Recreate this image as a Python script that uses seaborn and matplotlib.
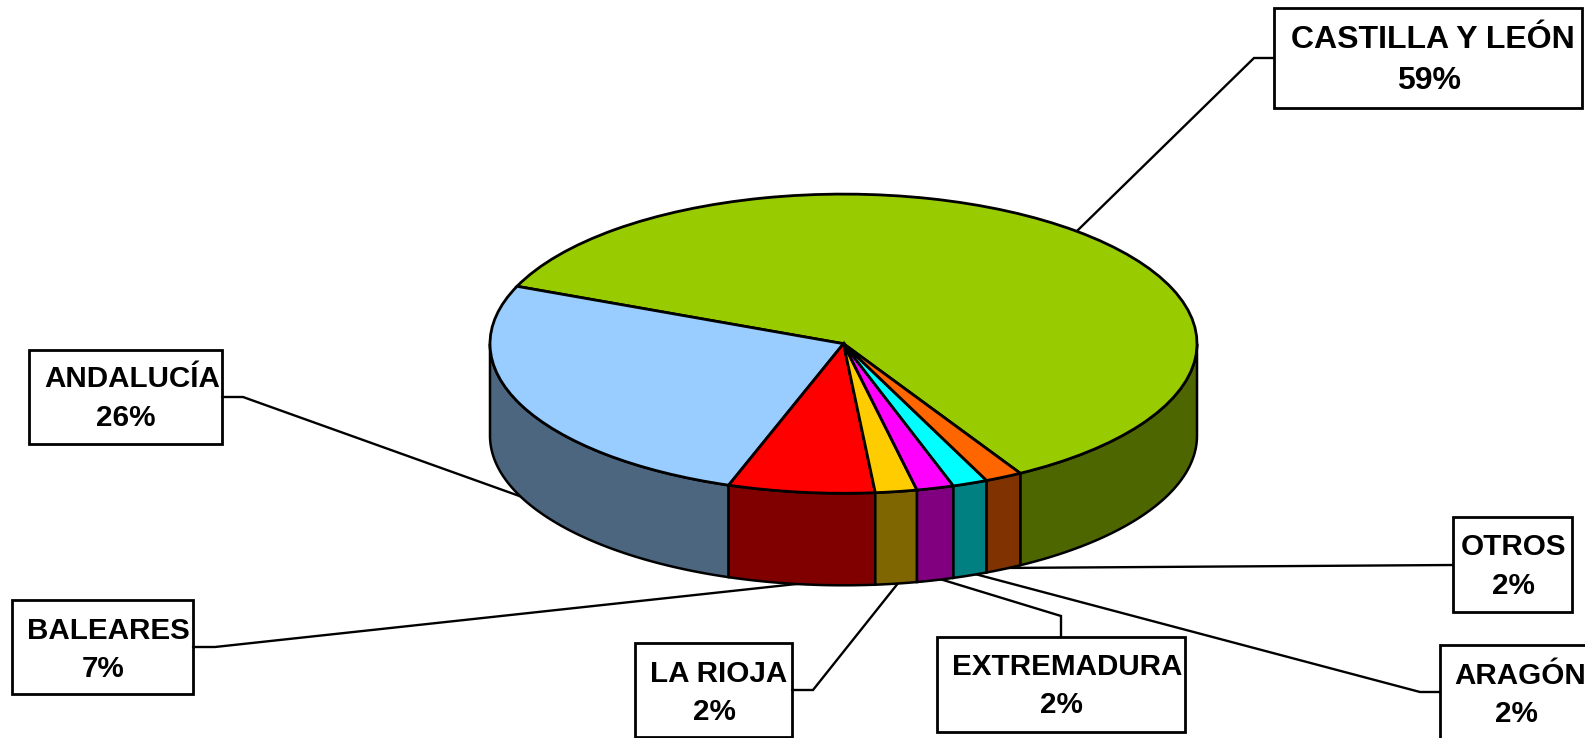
import numpy as np
import seaborn as sns
from matplotlib import pyplot as plt
from matplotlib.patches import Rectangle

regions = ['CASTILLA Y LEÓN', 'ANDALUCÍA', 'BALEARES', 'LA RIOJA',
           'EXTREMADURA', 'ARAGÓN', 'OTROS']
# slice shares as drawn in the picture
shares = [60.4, 26.0, 6.7, 1.9, 1.7, 1.6, 1.7]
pct_labels = ['59%', '26%', '7%', '2%', '2%', '2%', '2%']

top_colors = ['#99CC00', '#99CCFF', '#FF0000', '#FFCC00',
              '#FF00FF', '#00FFFF', '#FF6600']
side_colors = ['#4D6600', '#4D6680', '#800000', '#806600',
               '#800080', '#008080', '#803300']

W, H = 1585, 738
cx, cy, rx, ry, depth = 843.5, 343.7, 353.5, 149.6, 92
start = 300

# box (x0, y0, x1, y1), name centre, pct centre, leader points, font px
layout = [
    ((1274, 8, 1582, 108), (1433, 40), (1429, 81),
     [(1274, 58), (1254, 58), (1077, 231)], 32),
    ((29, 350, 222, 444), (132, 379), (126, 418),
     [(222, 397), (243, 397), (525, 498)], 29.6),
    ((12, 600, 193, 694), (108, 631), (103, 669),
     [(193, 647), (215, 647), (815, 582)], 29.6),
    ((635, 643, 792, 737), (719, 674), (714, 712),
     [(792, 690), (813, 690), (899, 582)], 29.6),
    ((937, 637, 1185, 732), (1067, 667), (1061, 705),
     [(1061, 637), (1061, 616), (930, 576)], 29.6),
    ((1440, 645, 1600, 760), (1520, 676), (1516, 714),
     [(1440, 692), (1420, 692), (975, 574)], 29.6),
    ((1453, 517, 1572, 612), (1513, 547), (1513, 586),
     [(1453, 565), (1000, 568)], 29.6),
]

sns.set_theme(style='white')
plt.rcParams['font.family'] = ['Liberation Sans', 'DejaVu Sans']

fig = plt.figure(figsize=(W / 100, H / 100), dpi=100, facecolor='white')

# leader lines and label boxes, pixel coordinates
ax_lab = fig.add_axes([0, 0, 1, 1], zorder=1)
ax_lab.set_xlim(0, W)
ax_lab.set_ylim(H, 0)
ax_lab.axis('off')

for name, pct, (box, name_xy, pct_xy, leader, px) in zip(regions, pct_labels, layout):
    xs, ys = zip(*leader)
    ax_lab.plot(xs, ys, color='black', lw=1.7, solid_joinstyle='miter')
    ax_lab.add_patch(Rectangle((box[0], box[1]), box[2] - box[0], box[3] - box[1],
                               fc='white', ec='black', lw=2.0))
    ax_lab.text(*name_xy, name, ha='center', va='center', fontweight='bold',
                fontsize=px * 0.72, color='black')
    ax_lab.text(*pct_xy, pct, ha='center', va='center', fontweight='bold',
                fontsize=px * 0.72, color='black')

# pie on top so it hides the ends of the leaders
ax = fig.add_axes([0, 0, 1, 1], zorder=2)
ax.patch.set_alpha(0)

edges = start + np.cumsum([0] + shares) / sum(shares) * 360
drop = depth / ry
for a, b, col in zip(edges[:-1], edges[1:], side_colors):
    for lo, hi in [(a, b), (a - 360, b - 360)]:
        lo, hi = max(lo, 180), min(hi, 360)
        if hi <= lo:
            continue
        t = np.radians(np.linspace(lo, hi, 120))
        x = np.cos(t)
        y = np.sin(t)
        ax.fill(np.r_[x, x[::-1]], np.r_[y, y[::-1] - drop], fc=col,
                ec='black', lw=1.8, joinstyle='miter')

ax.pie(shares, colors=top_colors, startangle=start, counterclock=True,
       radius=1, wedgeprops={'edgecolor': 'black', 'linewidth': 2.0})

ax.set_aspect('auto')
ax.set_xlim(-cx / rx, (W - cx) / rx)
ax.set_ylim((cy - H) / ry, cy / ry)
ax.axis('off')

plt.savefig('out.png', dpi=100)
plt.close()
